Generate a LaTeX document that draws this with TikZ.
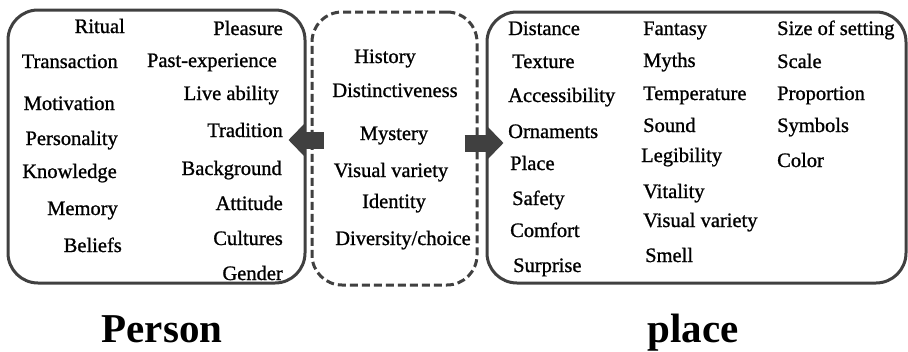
\documentclass[tikz,border=0pt]{standalone}
\usepackage{fontspec}
\setmainfont{Liberation Serif}
\newfontfamily\factorfont{Liberation Serif}[FakeBold=1]
\usepackage{tikz}
\usetikzlibrary{arrows.meta,positioning}
\usepackage{xcolor}
\definecolor{pgray}{RGB}{64,64,64}
\tikzstyle{panel} = [rectangle, rounded corners=30pt, draw=pgray, line width=3pt, inner sep=0pt]
\tikzstyle{item} = [inner sep=0pt, font=\factorfont\fontsize{20.5}{24}\selectfont]
\tikzstyle{title} = [inner sep=0pt, font=\fontsize{41}{46}\selectfont\bfseries]
\tikzstyle{fatarrow} = [line width=17pt, color=pgray, -{Triangle[width=34pt,length=17pt]}]

\begin{document}
\begin{tikzpicture}[x=1pt, y=-1pt]
\useasboundingbox (0,0) rectangle (908,351);
% Boxes
\node (person) [panel, minimum width=297pt, minimum height=273pt] at (156.5,146.5) {};
\node (mid) [panel, dash pattern=on 8pt off 4pt, minimum width=165pt, minimum height=273pt] at (394.5,148.5) {};
\node (place) [panel, minimum width=419pt, minimum height=271pt] at (696.5,147.5) {};

% Arrows
\draw[fatarrow] ([xshift=13pt,yshift=8.5pt]mid.west) -- ([xshift=-18pt,yshift=6.5pt]person.east);
\draw[fatarrow] ([xshift=-14pt,yshift=5.5pt]mid.east) -- ([xshift=18pt,yshift=4.5pt]place.west);

% Person factors
\node (ritual) [item, anchor=base east] at (125,33) {Ritual};
\node (trans) [item, anchor=base east] at (118,68) {Transaction};
\node (motiv) [item, anchor=base east] at (115,110) {Motivation};
\node (pers) [item, anchor=base east] at (118,145) {Personality};
\node (know) [item, anchor=base east] at (117,178) {Knowledge};
\node (mem) [item, anchor=base east] at (118,215) {Memory};
\node (belief) [item, anchor=base east] at (122,252) {Beliefs};
\node (pleas) [item, anchor=base east] at (283,35) {Pleasure};
\node (past) [item, anchor=base east] at (277,67) {Past-experience};
\node (live) [item, anchor=base east] at (279,100) {Live ability};
\node (trad) [item, anchor=base east] at (283,137) {Tradition};
\node (back) [item, anchor=base east] at (282,175) {Background};
\node (att) [item, anchor=base east] at (283,210) {Attitude};
\node (cult) [item, anchor=base east] at (283,245) {Cultures};
\node (gend) [item, anchor=base east] at (283,280) {Gender};

% Shared factors
\node (hist) [item, anchor=base] at (385,63) {History};
\node (dist) [item, anchor=base] at (395,97) {Distinctiveness};
\node (myst) [item, anchor=base] at (394,140) {Mystery};
\node (vis) [item, anchor=base] at (391,177) {Visual variety};
\node (ident) [item, anchor=base] at (394,208) {Identity};
\node (div) [item, anchor=base] at (403,245) {Diversity/choice};

% Place factors
\node (dista) [item, anchor=base west] at (508,35) {Distance};
\node (text) [item, anchor=base west] at (512,68) {Texture};
\node (acc) [item, anchor=base west] at (508,102) {Accessibility};
\node (orn) [item, anchor=base west] at (508,138) {Ornaments};
\node (plc) [item, anchor=base west] at (510,170) {Place};
\node (safe) [item, anchor=base west] at (512,205) {Safety};
\node (comf) [item, anchor=base west] at (510,237) {Comfort};
\node (surp) [item, anchor=base west] at (513,272) {Surprise};
\node (fant) [item, anchor=base west] at (643,35) {Fantasy};
\node (myth) [item, anchor=base west] at (643,67) {Myths};
\node (temp) [item, anchor=base west] at (643,100) {Temperature};
\node (sound) [item, anchor=base west] at (643,132) {Sound};
\node (leg) [item, anchor=base west] at (641,162) {Legibility};
\node (vit) [item, anchor=base west] at (643,198) {Vitality};
\node (vis2) [item, anchor=base west] at (643,227) {Visual variety};
\node (smell) [item, anchor=base west] at (645,262) {Smell};
\node (size) [item, anchor=base west] at (777,35) {Size of setting};
\node (scale) [item, anchor=base west] at (777,68) {Scale};
\node (prop) [item, anchor=base west] at (777,100) {Proportion};
\node (symb) [item, anchor=base west] at (777,132) {Symbols};
\node (col) [item, anchor=base west] at (777,167) {Color};

% Titles
\node (ptitle) [title, anchor=base] at (162,342) {Person};
\node (pltitle) [title, anchor=base] at (693,342) {place};
\end{tikzpicture}
\end{document}
